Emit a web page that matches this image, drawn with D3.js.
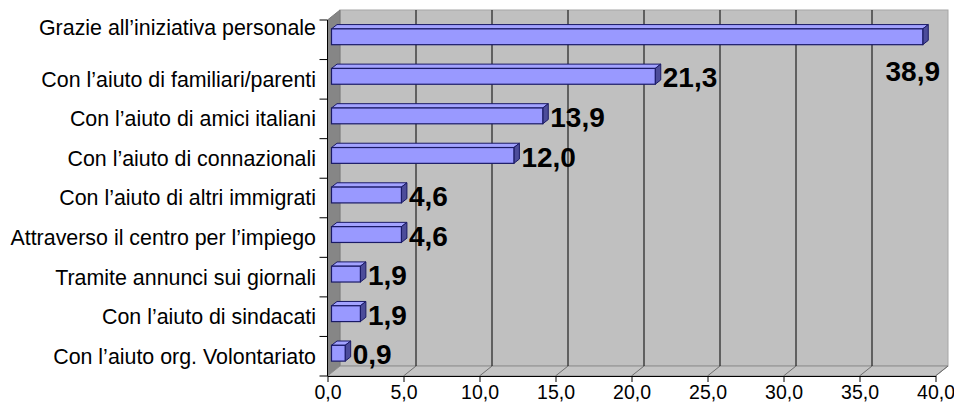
<!DOCTYPE html>
<html>
<head>
<meta charset="utf-8">
<script src="https://cdn.jsdelivr.net/npm/d3@7/dist/d3.min.js"></script>
<style>
  html, body { margin: 0; padding: 0; background: #ffffff; }
  svg { display: block; }
  text { font-family: "Liberation Sans", Arial, sans-serif; fill: #000; }
</style>
</head>
<body>
<svg id="chart" width="954" height="409"></svg>
<script>
// Channels through which the job was found (%)
const categories = [
  "Grazie all’iniziativa personale",
  "Con l’aiuto di familiari/parenti",
  "Con l’aiuto di amici italiani",
  "Con l’aiuto di connazionali",
  "Con l’aiuto di altri immigrati",
  "Attraverso il centro per l’impiego",
  "Tramite annunci sui giornali",
  "Con l’aiuto di sindacati",
  "Con l’aiuto org. Volontariato"
];
const values = [38.9, 21.3, 13.9, 12.0, 4.6, 4.6, 1.9, 1.9, 0.9];
const xTicks = [0, 5, 10, 15, 20, 25, 30, 35, 40];
// Extra (empty) line under the first category label
const labelLines = [
  ["Grazie all’iniziativa personale", ""]
];

const svg = d3.select("#chart");
const fmt = d => d3.format(".1f")(d).replace(".", ",");

const x = d3.scaleLinear().domain([0, 40]).range([327.5, 935.5]);
const y = d3.scaleBand().domain(categories).range([20, 376]);

// 3D depth of the plot box, and of the bars inside it
const DX = 12.5, DY = -10;
const BF = { dx: 4, dy: -3 };      // bar front plane offset
const BD = { dx: 5.5, dy: -4.3 };  // bar thickness
const barH = y.bandwidth() * 0.4;

const x0 = x(0), x1 = x(40);
const yTop = y.range()[0], yBot = y.range()[1];
const poly = pts => pts.map(p => p.join(",")).join(" ");

// back wall
svg.append("rect")
  .attr("x", x0 + DX).attr("y", yTop + DY)
  .attr("width", x1 - x0).attr("height", yBot - yTop)
  .attr("fill", "#c0c0c0").attr("stroke", "#a6a6a6").attr("stroke-width", 1);

// left side wall
svg.append("polygon")
  .attr("points", poly([[x0, yTop], [x0 + DX, yTop + DY], [x0 + DX, yBot + DY], [x0, yBot]]))
  .attr("fill", "#868686").attr("stroke", "#7a7a7a").attr("stroke-width", 1);

// floor
svg.append("polygon")
  .attr("points", poly([[x0, yBot], [x1, yBot], [x1 + DX, yBot + DY], [x0 + DX, yBot + DY]]))
  .attr("fill", "#c4c4c4").attr("stroke", "#8c8c8c").attr("stroke-width", 1);

// gridlines on the back wall and the floor
const grid = svg.append("g");
grid.selectAll("line.wall")
  .data(xTicks.filter(t => t > 0 && t < 40))
  .join("line")
  .attr("x1", d => x(d) + DX).attr("x2", d => x(d) + DX)
  .attr("y1", yTop + DY).attr("y2", yBot + DY)
  .attr("stroke", "#000").attr("stroke-width", 1);
grid.selectAll("line.floor")
  .data(xTicks.filter(t => t > 0))
  .join("line")
  .attr("x1", d => x(d)).attr("x2", d => x(d) + DX)
  .attr("y1", yBot).attr("y2", yBot + DY)
  .attr("stroke", "#6e6e6e").attr("stroke-width", 1);

// bars
const bars = svg.append("g").selectAll("g")
  .data(categories.map((c, i) => ({ c, v: values[i] })))
  .join("g");

const geom = d => {
  const cy = y(d.c) + y.bandwidth() / 2 + BF.dy;
  const top = cy - barH / 2, bot = cy + barH / 2;
  const xs = x(0) + BF.dx, xe = x(d.v) + BF.dx;
  return { cy, top, bot, xs, xe };
};

bars.append("polygon")
  .attr("points", d => { const g = geom(d);
    return poly([[g.xs, g.top], [g.xe, g.top], [g.xe + BD.dx, g.top + BD.dy], [g.xs + BD.dx, g.top + BD.dy]]); })
  .attr("fill", "#a3a3ff").attr("stroke", "#1a1a66").attr("stroke-width", 1).attr("stroke-linejoin", "round");

bars.append("polygon")
  .attr("points", d => { const g = geom(d);
    return poly([[g.xe, g.top], [g.xe + BD.dx, g.top + BD.dy], [g.xe + BD.dx, g.bot + BD.dy], [g.xe, g.bot]]); })
  .attr("fill", "#4c4c9a").attr("stroke", "#1a1a66").attr("stroke-width", 1).attr("stroke-linejoin", "round");

bars.append("rect")
  .attr("x", d => geom(d).xs).attr("y", d => geom(d).top)
  .attr("width", d => geom(d).xe - geom(d).xs).attr("height", barH)
  .attr("fill", "#9999ff").attr("stroke", "#1a1a66").attr("stroke-width", 1.2);

// value labels
const wallRight = x1 + DX;
bars.append("text")
  .attr("font-size", 28).attr("font-weight", "bold")
  .attr("dy", "0.36em")
  .text(d => fmt(d.v))
  .each(function (d) {
    const g = geom(d);
    const t = d3.select(this);
    const w = this.getComputedTextLength();
    let tx = g.xe + BD.dx + 2;
    if (tx + w > wallRight) {
      // no room past the bar end: tuck the label under the bar, inside the wall
      t.attr("text-anchor", "end").attr("x", wallRight - 8).attr("y", g.cy + y.bandwidth() * 0.86);
    } else {
      t.attr("x", tx).attr("y", g.cy + 1);
    }
  });

// left (category) axis
const left = svg.append("g");
left.append("line")
  .attr("x1", x0).attr("x2", x0).attr("y1", yTop).attr("y2", yBot)
  .attr("stroke", "#000").attr("stroke-width", 1);
const bounds = categories.map(c => y(c)).concat([yBot]);
left.selectAll("line.tick")
  .data(bounds)
  .join("line")
  .attr("x1", x0 - 8).attr("x2", x0)
  .attr("y1", d => d).attr("y2", d => d)
  .attr("stroke", "#000").attr("stroke-width", 1);

const lineH = 25;
left.selectAll("text")
  .data(categories)
  .join("text")
  .attr("text-anchor", "end")
  .attr("font-size", 21.4)
  .each(function (c, i) {
    const extra = labelLines.find(l => l[0] === c);
    const lines = extra || [c];
    const cy = y(c) + y.bandwidth() / 2;
    const startY = cy - (lines.length - 1) * lineH / 2;
    d3.select(this).selectAll("tspan")
      .data(lines)
      .join("tspan")
      .attr("x", 316)
      .attr("y", (l, j) => startY + j * lineH)
      .attr("dy", "0.35em")
      .text(l => l);
  });

// bottom (value) axis
const axis = d3.axisBottom(x)
  .tickValues(xTicks)
  .tickFormat(fmt)
  .tickSizeInner(6)
  .tickSizeOuter(0)
  .tickPadding(3);
const gx = svg.append("g")
  .attr("transform", `translate(0,${yBot})`)
  .call(axis);
gx.select(".domain").attr("stroke", "#000");
gx.selectAll(".tick line").attr("stroke", "#000");
gx.selectAll(".tick text")
  .attr("font-size", 19.5)
  .attr("font-family", "'Liberation Sans', Arial, sans-serif")
  .attr("fill", "#000");
</script>
</body>
</html>
